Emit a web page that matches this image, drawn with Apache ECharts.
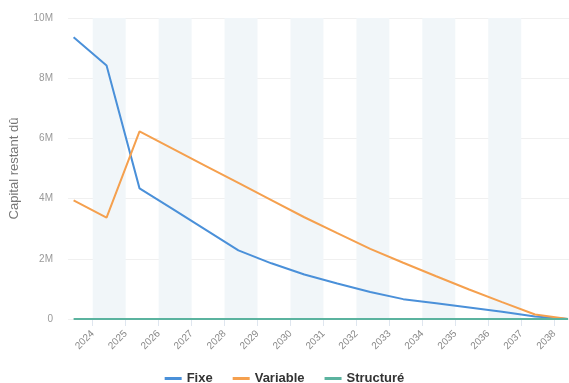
<!DOCTYPE html>
<html>
<head>
<meta charset="utf-8">
<script src="https://cdn.jsdelivr.net/npm/echarts@6/dist/echarts.min.js"></script>
<style>
  html, body { margin: 0; padding: 0; background: #fff; }
  #chart { width: 569px; height: 383px; }
</style>
</head>
<body>
<div id="chart"></div>
<script>
// points sit around June of each year, ticks on the year start
const tickYears = [2024, 2025, 2026, 2027, 2028, 2029, 2030, 2031, 2032, 2033, 2034, 2035, 2036, 2037, 2038];
const bandEdges = [2024, 2025, 2026, 2027, 2028, 2029, 2030, 2031, 2032, 2033, 2034, 2035, 2036, 2037, 2038, 2039];
const pointYears = [2023.42, 2024.42, 2025.42, 2026.42, 2027.42, 2028.42, 2029.42, 2030.42,
  2031.42, 2032.42, 2033.42, 2034.42, 2035.42, 2036.42, 2037.42, 2038.42];
const fixe = [9.36, 8.42, 4.34, 3.66, 2.97, 2.28, 1.85, 1.48, 1.18, 0.9, 0.66, 0.52, 0.38, 0.24, 0.08, 0];
const variable = [3.94, 3.37, 6.23, 5.66, 5.09, 4.52, 3.95, 3.38, 2.85, 2.33, 1.87, 1.42, 0.98, 0.56, 0.15, 0];
const structure = [0, 0, 0, 0, 0, 0, 0, 0, 0, 0, 0, 0, 0, 0, 0, 0];
const seriesNames = ["Fixe", "Variable", "Structuré"];
const yTicks = ["0", "2M", "4M", "6M", "8M", "10M"];

const pair = (vals) => vals.map((v, i) => [pointYears[i], v]);

const chart = echarts.init(document.getElementById("chart"));

const option = {
  animation: false,
  color: ["#4a90d9", "#f5a04e", "#5bb39f"],
  grid: { left: 68, top: 18, right: -6, bottom: 64, containLabel: false },
  legend: {
    bottom: -7,
    left: "center",
    icon: "rect",
    itemWidth: 17,
    itemHeight: 3,
    itemGap: 20,
    textStyle: { color: "#333", fontWeight: "bold", fontSize: 13 },
    data: seriesNames,
  },
  xAxis: {
    type: "value",
    min: 2023.25,
    max: 2038.45,
    axisLine: { show: false },
    axisTick: { show: true, length: 7, lineStyle: { color: "#dfe6ef" }, customValues: bandEdges },
    axisLabel: {
      rotate: 45,
      color: "#888",
      fontSize: 10,
      margin: 13,
      customValues: tickYears,
      formatter: (v) => String(v),
    },
    splitLine: { show: false },
    splitArea: { show: true, areaStyle: { color: ["#f1f6f9", "rgba(255,255,255,0)"] } },
  },
  yAxis: {
    type: "value",
    min: 0,
    max: 10,
    interval: 2,
    name: "Capital restant dû",
    nameLocation: "middle",
    nameGap: 47,
    nameTextStyle: { color: "#777", fontSize: 13 },
    axisLine: { show: false },
    axisTick: { show: false },
    axisLabel: {
      color: "#999",
      fontSize: 10,
      margin: 15,
      formatter: (v) => yTicks[v / 2],
    },
    splitLine: { show: true, lineStyle: { color: "#f0f0f0" } },
  },
  series: [
    { name: seriesNames[0], type: "line", data: pair(fixe) },
    { name: seriesNames[1], type: "line", data: pair(variable) },
    { name: seriesNames[2], type: "line", data: pair(structure) },
  ].map((s) => ({ ...s, showSymbol: false, symbol: "none", lineStyle: { width: 2 } })),
};

chart.setOption(option);
</script>
</body>
</html>
